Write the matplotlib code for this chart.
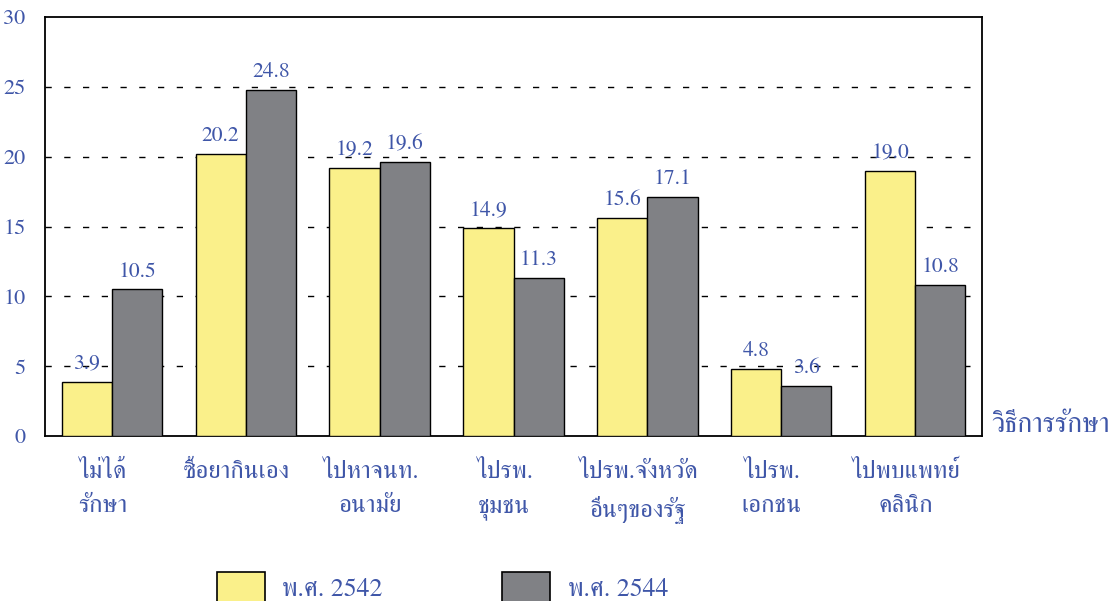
import matplotlib
matplotlib.use("Agg")
import matplotlib.pyplot as plt
from matplotlib.patches import Rectangle
import numpy as np

## data
categories = ["ไม่ได้\nรักษา", "ซื้อยากินเอง", "ไปหาจนท.\nอนามัย", "ไปรพ.\nชุมชน",
              "ไปรพ.จังหวัด\nอื่นๆของรัฐ", "ไปรพ.\nเอกชน", "ไปพบแพทย์\nคลินิก"]
y2542 = [3.9, 20.2, 19.2, 14.9, 15.6, 4.8, 19.0]
y2544 = [10.5, 24.8, 19.6, 11.3, 17.1, 3.6, 10.8]
series_names = ["พ.ศ. 2542", "พ.ศ. 2544"]
yticks = [0, 5, 10, 15, 20, 25, 30]

yellow = '#FAF08A'
gray = '#808185'
blue = '#3F56A8'
fonts = ['FreeSerif', 'Liberation Serif', 'Loma', 'DejaVu Serif']

fig = plt.figure(figsize=(11.19, 6.01), dpi=100)
ax = fig.add_axes([45/1119., 1-436/601., 937/1119., 419/601.])

x = np.arange(len(categories))
w = 0.375
ax.bar(x - w/2, y2542, w, color=yellow, edgecolor='black', linewidth=1.0, zorder=3)
ax.bar(x + w/2, y2544, w, color=gray, edgecolor='black', linewidth=1.0, zorder=3)

for i in range(len(x)):
  ax.text(x[i] - w/2, y2542[i] + 0.55, "%.1f" % y2542[i], ha='center', va='bottom',
          color=blue, fontsize=15.5, family=fonts, zorder=4)
  ax.text(x[i] + w/2, y2544[i] + 0.55, "%.1f" % y2544[i], ha='center', va='bottom',
          color=blue, fontsize=15.5, family=fonts, zorder=4)

ax.set_xlim(-0.5, len(x) - 0.5)
ax.set_ylim(0, 30)
ax.set_yticks(yticks)
ax.set_yticklabels([str(t) for t in yticks], color=blue, fontsize=16, family=fonts)
ax.tick_params(axis='y', length=0, pad=14)
ax.set_xticks([])

for g in yticks[1:-1]:
  ax.axhline(g, color='black', linewidth=1.0, linestyle=(0, (4.5, 9)), zorder=1)

for s in ax.spines.values():
  s.set_linewidth(1.3)
  s.set_color('black')

# category labels under the axis
for i, lab in enumerate(categories):
  ax.text(x[i] - 0.07, -1.75, lab, ha='center', va='top', color=blue,
          fontsize=18, family=fonts, linespacing=1.55)

ax.text(1.01, -0.005, "วิธีการรักษา", transform=ax.transAxes, ha='left', va='bottom',
        color=blue, fontsize=20, family=fonts)

# legend
fig.add_artist(Rectangle((217/1119., -0.05), 48/1119., 0.05 + 29/601., transform=fig.transFigure,
                         facecolor=yellow, edgecolor='black', linewidth=1.2))
fig.add_artist(Rectangle((502/1119., -0.05), 48/1119., 0.05 + 29/601., transform=fig.transFigure,
                         facecolor=gray, edgecolor='black', linewidth=1.2))
fig.text(282/1119., 5/601., series_names[0], ha='left', va='baseline', color=blue,
         fontsize=18.5, family=fonts)
fig.text(568/1119., 5/601., series_names[1], ha='left', va='baseline', color=blue,
         fontsize=18.5, family=fonts)

fig.savefig("out.png", dpi=100)
